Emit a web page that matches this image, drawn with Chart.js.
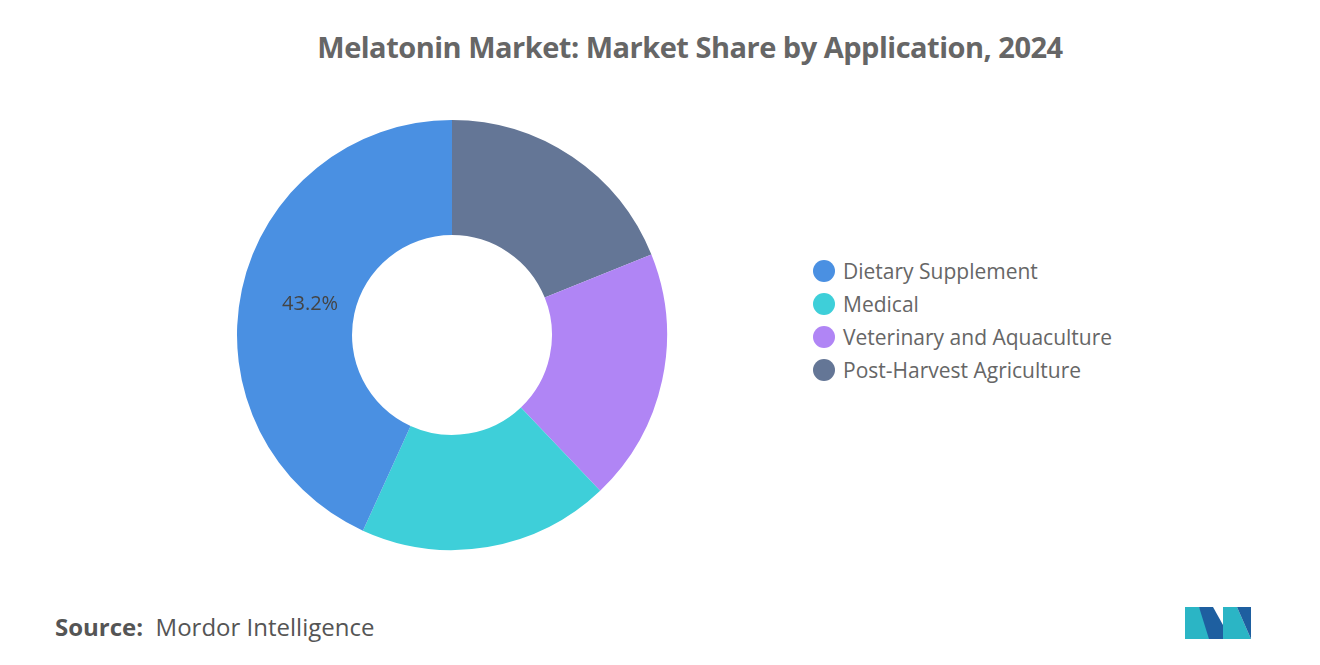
<!DOCTYPE html>
<html><head><meta charset="utf-8">
<script src="https://cdn.jsdelivr.net/npm/chart.js"></script>
<style>
body{margin:0;width:1320px;height:665px;background:#fff;font-family:"Open Sans",sans-serif;position:relative;overflow:hidden}
#title{position:absolute;top:27px;left:0;width:1380px;text-align:center;font-size:29px;font-weight:700;color:#666;letter-spacing:-0.5px}
#wrap{position:absolute;left:232px;top:115px;width:440px;height:440px}
#legend{position:absolute;left:813px;top:254px;font-size:21px;color:#666}
.li{height:33px;display:flex;align-items:center}
.dot{width:22px;height:22px;border-radius:50%;margin-right:8px}
#src{position:absolute;left:55px;top:610px;font-size:24px;color:#555}
#src b{font-weight:700}
</style></head><body>
<div id="title">Melatonin Market: Market Share by Application, 2024</div>
<div id="wrap"><canvas id="c"></canvas></div>
<div id="legend"></div>
<div id="src"><b>Source:</b>&nbsp; Mordor Intelligence</div>
<svg style="position:absolute;left:1185px;top:603px" width="66" height="36">
<polygon points="0,36 0,4 14,4 24,22 24,36" fill="#2bb5c5"/>
<polygon points="14,4 28,4 38,22 38,36 24,36" fill="#1e5fa0"/>
<polygon points="38,36 38,4 52,4 66,36" fill="#2bb5c5"/>
<polygon points="52,4 66,4 66,36" fill="#1e5fa0"/>
</svg>
<script>
const categories=["Dietary Supplement","Medical","Veterinary and Aquaculture","Post-Harvest Agriculture"];
const values=[43.2,18.9,19.0,18.9];
const colors=["#4a90e2","#3ecfd9","#b085f5","#647696"];
const labelsShown=["43.2%","","",""];
const lg=document.getElementById('legend');
categories.forEach((c,i)=>{lg.innerHTML+=`<div class="li"><div class="dot" style="background:${colors[i]}"></div>${c}</div>`});
const order=[3,2,1,0];
const lblPlugin={id:'lbl',afterDatasetsDraw(ch){const ctx=ch.ctx;const meta=ch.getDatasetMeta(0);
meta.data.forEach((a,j)=>{const t=labelsShown[order[j]];if(!t)return;const p=a.tooltipPosition();
ctx.save();ctx.font='20px "Open Sans"';ctx.fillStyle='#444';ctx.textAlign='center';ctx.textBaseline='middle';ctx.fillText(t,p.x+12,p.y+3);ctx.restore();});}};
new Chart(document.getElementById('c'),{type:'doughnut',
data:{labels:order.map(i=>categories[i]),datasets:[{data:order.map(i=>values[i]),backgroundColor:order.map(i=>colors[i]),borderWidth:0}]},
options:{responsive:true,maintainAspectRatio:false,animation:false,cutout:'46.5%',layout:{padding:5},
plugins:{legend:{display:false},tooltip:{enabled:false}}},plugins:[lblPlugin]});
</script></body></html>
